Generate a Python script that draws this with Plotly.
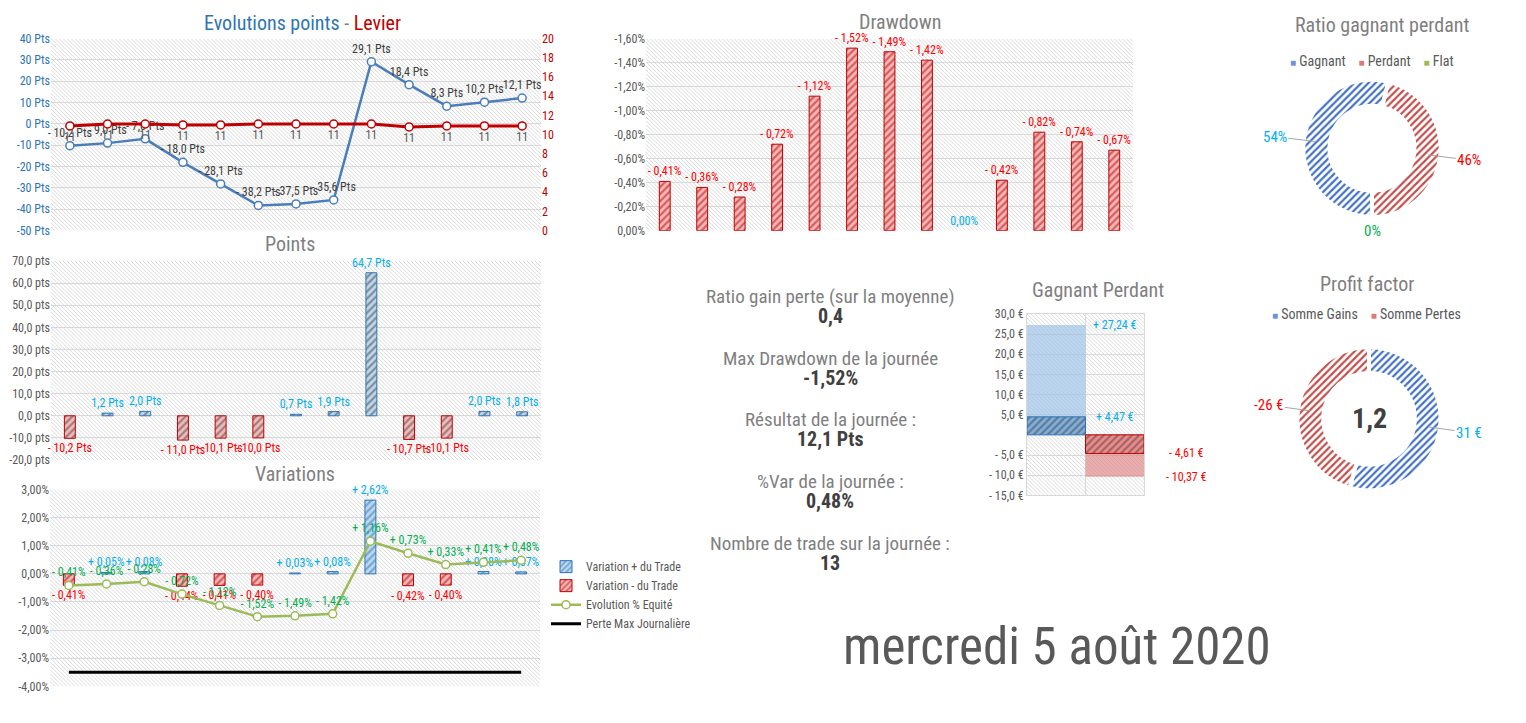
import base64
import math

import plotly.graph_objects as go

W, H = 1526, 723
M = 8  # margin the browser page keeps around the figure
FW, FH = W - 2 * M, H - 2 * M
FONT = ("Noto Sans ExtraCondensed, Noto Sans Condensed, Roboto Condensed, "
        "Liberation Sans Narrow, Roboto, sans-serif")

GREY = "#595959"
TITLE_GREY = "#7f7f7f"
DARK = "#404040"
CYAN = "#00b0f0"
RED = "#ff0000"
GREEN = "#00b050"
BLUE_FG, BLUE_BG = "#2e75b6", "#bdd7ee"
RED_FG, RED_BG = "#c00000", "#f4b9b9"

# ---- data ----
trades = list(range(1, 14))
cumul_pts = [-10.2, -9.0, -7.0, -18.0, -28.1, -38.2, -37.5, -35.6, 29.1, 18.4, 8.3, 10.2, 12.1]
levier = [10.9, 11.1, 11.1, 11.0, 11.0, 11.1, 11.1, 11.1, 11.1, 10.8, 10.9, 10.9, 10.9]
trade_pts = [-10.2, 1.2, 2.0, -11.0, -10.1, -10.0, 0.7, 1.9, 64.7, -10.7, -10.1, 2.0, 1.8]
trade_var = [-0.41, 0.05, 0.08, -0.44, -0.41, -0.40, 0.03, 0.08, 2.62, -0.42, -0.40, 0.08, 0.07]
equity_var = [-0.41, -0.36, -0.28, -0.72, -1.12, -1.52, -1.49, -1.42, 1.16, 0.73, 0.33, 0.41, 0.48]
perte_max = [-3.5, -3.5, -3.5, -3.5, -3.5, -3.5, -3.5, -3.5, -3.5, -3.5, -3.5, -3.5, -3.5]
drawdown = [-0.41, -0.36, -0.28, -0.72, -1.12, -1.52, -1.49, -1.42, 0.00, -0.42, -0.82, -0.74, -0.67]

gp_cats = ["Gagnant", "Perdant"]
gp_max = [27.24, -10.37]
gp_moy = [4.47, -4.61]

ratio_labels = ["Gagnant", "Perdant", "Flat"]
ratio_counts = [7, 6, 0]

pf_labels = ["Somme Gains", "Somme Pertes"]
pf_values = [31, -26]

stats = [
    ("Ratio gain perte (sur la moyenne)", "0,4"),
    ("Max Drawdown de la journée", "-1,52%"),
    ("Résultat de la journée :", "12,1 Pts"),
    ("%Var de la journée :", "0,48%"),
    ("Nombre de trade sur la journée :", "13"),
]
day_label = "mercredi 5 août 2020"


def px(x):
    return (x - M) / FW


def py(y):
    return 1 - (y - M) / FH


def dec(v, d):
    return f"{abs(v):.{d}f}".replace(".", ",")


def signed(v, d, suffix, plus=True):
    if v < 0:
        return f"- {dec(v, d)}{suffix}"
    if v > 0 and plus:
        return f"+ {dec(v, d)}{suffix}"
    return f"{dec(v, d)}{suffix}"


def plain(d, suffix):
    def f(t):
        t = 0.0 if abs(t) < 1e-9 else t
        return f"{t:.{d}f}{suffix}".replace(".", ",")
    return f


def ticks(lo, hi, step, fmt):
    vals = []
    v = lo
    while v <= hi + 1e-9:
        vals.append(round(v, 4))
        v += step
    return dict(tickmode="array", tickvals=vals, ticktext=[fmt(t) for t in vals])


def hatch(x0, y0, x1, y1):
    w, h = x1 - x0, y1 - y0
    svg = (
        f'<svg xmlns="http://www.w3.org/2000/svg" width="{w}" height="{h}" '
        f'viewBox="0 0 {w} {h}" preserveAspectRatio="none"><defs>'
        '<pattern id="p" width="4" height="4" patternUnits="userSpaceOnUse">'
        '<path d="M0,0 L4,4 M-1,3 L1,5 M3,-1 L5,1" stroke="#dadada" stroke-width="1"/>'
        '</pattern></defs><rect width="100%" height="100%" fill="url(#p)"/></svg>'
    )
    src = "data:image/svg+xml;base64," + base64.b64encode(svg.encode()).decode()
    return dict(source=src, xref="paper", yref="paper", x=px(x0), y=py(y0),
                sizex=w / FW, sizey=h / FH, sizing="stretch", layer="below",
                xanchor="left", yanchor="top")


def pat(fg, bg):
    return dict(shape="/", fgcolor=fg, bgcolor=bg, size=5, solidity=0.45)


# plot areas in pixels of the reference (x0, y0, x1, y1)
A_EVOL = (51, 32, 541, 228)
A_PTS = (51, 259, 541, 462)
A_VAR = (50, 492, 540, 693)
A_DD = (646, 32, 1133, 228)
A_GP = (1027, 313, 1144, 498)

LBL = dict(size=12, family=FONT)

fig = go.Figure()

# ---- Evolutions points - Levier ----
fig.add_trace(go.Scatter(
    x=trades, y=cumul_pts, mode="lines+markers+text",
    text=[signed(v, 1, " Pts", plus=False) for v in cumul_pts],
    textposition="top center", textfont=dict(color=DARK, **LBL),
    line=dict(color="#4a7ebb", width=2.5),
    marker=dict(size=8, color="white", line=dict(color="#4a7ebb", width=1.5)),
    xaxis="x", yaxis="y", showlegend=False, cliponaxis=False))
fig.add_trace(go.Scatter(
    x=trades, y=levier, mode="lines+markers+text",
    text=[f"{v:.0f}" for v in levier],
    textposition="bottom center", textfont=dict(color=GREY, **LBL),
    line=dict(color=RED_FG, width=3),
    marker=dict(size=8, color="white", line=dict(color=RED_FG, width=1.5)),
    xaxis="x", yaxis="y2", showlegend=False, cliponaxis=False))

# ---- Points ----
fig.add_trace(go.Bar(
    x=trades, y=trade_pts, width=0.29,
    text=[signed(v, 1, " Pts", plus=False) for v in trade_pts],
    textposition="outside", constraintext="none",
    textfont=dict(color=[CYAN if v > 0 else RED for v in trade_pts], **LBL),
    marker=dict(color=[BLUE_BG if v > 0 else RED_BG for v in trade_pts],
                line=dict(color=[BLUE_FG if v > 0 else RED_FG for v in trade_pts], width=1),
                pattern=dict(shape="/", fgcolor=[BLUE_FG if v > 0 else RED_FG for v in trade_pts],
                             size=5, solidity=0.45)),
    xaxis="x3", yaxis="y3", showlegend=False, cliponaxis=False))

# ---- Variations ----
var_pos = [v if v > 0 else None for v in trade_var]
var_neg = [v if v < 0 else None for v in trade_var]
fig.add_trace(go.Bar(
    x=trades, y=var_pos, width=0.29, name="Variation + du Trade",
    text=[signed(v, 2, "%") if v is not None else "" for v in var_pos],
    textposition="outside", constraintext="none", textfont=dict(color=CYAN, **LBL),
    marker=dict(color=BLUE_BG, line=dict(color=BLUE_FG, width=1), pattern=pat(BLUE_FG, BLUE_BG)),
    xaxis="x4", yaxis="y4", cliponaxis=False))
fig.add_trace(go.Bar(
    x=trades, y=var_neg, width=0.29, name="Variation - du Trade",
    text=[signed(v, 2, "%") if v is not None else "" for v in var_neg],
    textposition="outside", constraintext="none", textfont=dict(color=RED, **LBL),
    marker=dict(color=RED_BG, line=dict(color=RED_FG, width=1), pattern=pat(RED_FG, RED_BG)),
    xaxis="x4", yaxis="y4", cliponaxis=False))
fig.add_trace(go.Scatter(
    x=trades, y=equity_var, mode="lines+markers+text", name="Evolution % Equité",
    text=[signed(v, 2, "%") for v in equity_var],
    textposition="top center", textfont=dict(color=GREEN, **LBL),
    line=dict(color="#9bbb59", width=2.5),
    marker=dict(size=8, color="white", line=dict(color="#9bbb59", width=1.5)),
    xaxis="x4", yaxis="y4", cliponaxis=False))
fig.add_trace(go.Scatter(
    x=trades, y=perte_max, mode="lines", name="Perte Max Journalière",
    line=dict(color="black", width=3), xaxis="x4", yaxis="y4"))

# ---- Drawdown ----
fig.add_trace(go.Bar(
    x=trades, y=drawdown, width=0.29,
    text=[signed(v, 2, "%") for v in drawdown], textposition="outside", constraintext="none",
    textfont=dict(color=[RED if v < 0 else CYAN for v in drawdown], **LBL),
    marker=dict(color=RED_BG, line=dict(color=RED_FG, width=[1 if v else 0 for v in drawdown]),
                pattern=pat(RED_FG, RED_BG)),
    xaxis="x5", yaxis="y5", showlegend=False, cliponaxis=False))

# ---- Gagnant Perdant ----
fig.add_trace(go.Bar(
    x=gp_cats, y=gp_max, width=1,
    marker=dict(color=["rgba(157,195,230,0.7)", "rgba(224,130,130,0.65)"], line=dict(width=0)),
    xaxis="x6", yaxis="y6", showlegend=False))
fig.add_trace(go.Bar(
    x=gp_cats, y=gp_moy, width=1,
    marker=dict(color=["#7fb0dd", "#f08a8a"], line=dict(color=[BLUE_FG, RED_FG], width=1),
                pattern=dict(shape="/", fgcolor=[BLUE_FG, RED_FG], size=5, solidity=0.45)),
    xaxis="x6", yaxis="y6", showlegend=False))

# ---- donuts ----
P1 = (1372, 144, 70)
P2 = (1369, 420, 73)
PIE1_COLORS = ["#b4c7e7", "#f4b6b6", "#c5e0b4"]
PIE1_LINES = ["#4472c4", "#c0504d", "#70ad47"]
fig.add_trace(go.Pie(
    labels=ratio_labels, values=ratio_counts, hole=0.62, sort=False,
    direction="clockwise", rotation=180, textinfo="none", showlegend=False,
    marker=dict(colors=PIE1_COLORS, line=dict(color="white", width=4),
                pattern=dict(shape="/", fgcolor=PIE1_LINES, size=5, solidity=0.45)),
    domain=dict(x=[px(P1[0] - P1[2]), px(P1[0] + P1[2])],
                y=[py(P1[1] + P1[2]), py(P1[1] - P1[2])])))
fig.add_trace(go.Pie(
    labels=pf_labels, values=[abs(v) for v in pf_values], hole=0.64, sort=False,
    direction="clockwise", rotation=0, textinfo="none", showlegend=False,
    marker=dict(colors=PIE1_COLORS[:2], line=dict(color="white", width=4),
                pattern=dict(shape="/", fgcolor=PIE1_LINES[:2], size=5, solidity=0.45)),
    domain=dict(x=[px(P2[0] - P2[2]), px(P2[0] + P2[2])],
                y=[py(P2[1] + P2[2]), py(P2[1] - P2[2])])))


def donut_labels(center, values, start, texts, colors, hole):
    cx, cy, r = center
    total = sum(abs(v) for v in values)
    out = []
    acc = start
    for v, t, c in zip(values, texts, colors):
        frac = abs(v) / total
        mid = math.radians(acc + frac * 180)
        acc += frac * 360
        dx, dy = math.sin(mid), -math.cos(mid)
        rm = r * (1 + hole) / 2
        hx, hy = cx + rm * dx, cy + rm * dy
        if v != 0:
            lx, ly = cx + (r + 28) * dx, cy + (r + 28) * dy
            out.append(dict(x=px(hx), y=py(hy), xref="paper", yref="paper", text=t,
                            showarrow=True, arrowhead=0, arrowwidth=1, arrowcolor="#a6a6a6",
                            ax=lx - hx, ay=ly - hy, font=dict(color=c, size=15, family=FONT)))
        else:
            lx, ly = cx + (r + 14) * dx, cy + (r + 14) * dy
            out.append(dict(x=px(lx), y=py(ly), xref="paper", yref="paper", text=t,
                            xanchor="center", yanchor="middle", showarrow=False,
                            font=dict(color=c, size=15, family=FONT)))
    return out


def title(text, x, y, size=20, color=TITLE_GREY):
    return dict(x=px(x), y=py(y), xref="paper", yref="paper", text=text, showarrow=False,
                xanchor="center", yanchor="middle",
                font=dict(size=size, color=color, family=FONT))


def key_row(labels, colors):
    gap = "&nbsp;" * 4
    return gap.join(f"<span style='color:{c};font-size:10px'>■</span> {lab}"
                    for lab, c in zip(labels, colors))


ratio_tot = sum(ratio_counts)
annotations = []
annotations += donut_labels(P1, ratio_counts, 180,
                            [f"{round(100 * v / ratio_tot)}%" for v in ratio_counts],
                            [CYAN, RED, GREEN], 0.62)
annotations += donut_labels(P2, pf_values, 0, [f"{v} €" for v in pf_values], [CYAN, RED], 0.64)
annotations.append(title(f"<b>{dec(pf_values[0] / abs(pf_values[1]), 1)}</b>",
                         P2[0], P2[1], size=28, color=DARK))
annotations.append(title(key_row(ratio_labels, ["#6f93d6", "#d97b79", "#9bbb59"]),
                         1372, 55, size=14, color=GREY))
annotations.append(title(key_row(pf_labels, ["#6f93d6", "#d97b79"]),
                         1366, 313, size=14, color=GREY))

annotations += [
    title("<span style='color:#2e75b6'>Evolutions points</span> - "
          "<span style='color:#c00000'>Levier</span>", 302, 16),
    title("Points", 290, 242),
    title("Variations", 295, 476),
    title("Drawdown", 900, 15),
    title("Gagnant Perdant", 1098, 289),
    title("Ratio gagnant perdant", 1382, 18),
    title("Profit factor", 1367, 282),
    title(day_label, 1057, 652, size=51, color=GREY),
]
for i, (lab, val) in enumerate(stats):
    y0 = 295 + 63 * i
    annotations.append(title(lab, 830, y0, size=19))
    annotations.append(title(f"<b>{val}</b>", 830, y0 + 20, size=20, color=DARK))

# labels of the Gagnant Perdant bars
for v in gp_max + gp_moy:
    pos = v > 0
    annotations.append(dict(x="Perdant", y=v, xref="x6", yref="y6",
                            text=signed(v, 2, " €"), showarrow=False,
                            xanchor="center", yanchor="middle",
                            xshift=0 if pos else 72,
                            font=dict(color=CYAN if pos else RED, size=12, family=FONT)))

grid = "#d9d9d9"


def yax(**kw):
    base = dict(showgrid=True, gridcolor=grid, zeroline=False, showline=False,
                tickfont=dict(color=GREY, size=12), ticks="")
    base.update(kw)
    return base


x_common = dict(showgrid=False, zeroline=False, showticklabels=False, range=[0.5, 13.5],
                fixedrange=True)

fig.update_layout(
    width=FW, height=FH, margin=dict(l=0, r=0, t=0, b=0),
    paper_bgcolor="white", plot_bgcolor="rgba(0,0,0,0)",
    font=dict(family=FONT, color=GREY, size=12),
    barmode="overlay", annotations=annotations,
    images=[hatch(*a) for a in (A_EVOL, A_PTS, A_VAR, A_DD, A_GP)],
    xaxis=dict(domain=[px(A_EVOL[0]), px(A_EVOL[2])], anchor="y", **x_common),
    yaxis=yax(domain=[py(A_EVOL[3]), py(A_EVOL[1])], range=[-50, 40], anchor="x",
              tickfont=dict(color="#2e75b6", size=12),
              **ticks(-50, 40, 10, plain(0, " Pts"))),
    yaxis2=dict(overlaying="y", side="right", range=[0, 20], anchor="x", showgrid=False,
                zeroline=False, tickfont=dict(color=RED_FG, size=12),
                **ticks(0, 20, 2, plain(0, ""))),
    xaxis3=dict(domain=[px(A_PTS[0]), px(A_PTS[2])], anchor="y3", **x_common),
    yaxis3=yax(domain=[py(A_PTS[3]), py(A_PTS[1])], range=[-20, 70], anchor="x3",
               **ticks(-20, 70, 10, plain(1, " pts"))),
    xaxis4=dict(domain=[px(A_VAR[0]), px(A_VAR[2])], anchor="y4", **x_common),
    yaxis4=yax(domain=[py(A_VAR[3]), py(A_VAR[1])], range=[-4, 3], anchor="x4",
               **ticks(-4, 3, 1, plain(2, "%"))),
    xaxis5=dict(domain=[px(A_DD[0]), px(A_DD[2])], anchor="y5", **x_common),
    yaxis5=yax(domain=[py(A_DD[3]), py(A_DD[1])], range=[0, -1.6], anchor="x5",
               **ticks(-1.6, 0, 0.2, plain(2, "%"))),
    xaxis6=dict(domain=[px(A_GP[0]), px(A_GP[2])], anchor="y6", type="category",
                range=[-0.5, 1.5], tickson="boundaries", showgrid=True, gridcolor=grid,
                showticklabels=False, showline=True, mirror=True, linecolor=grid, ticks=""),
    yaxis6=yax(domain=[py(A_GP[3]), py(A_GP[1])], range=[-15, 30], anchor="x6",
               showline=True, mirror=True, linecolor=grid,
               **ticks(-15, 30, 5, lambda t: "" if t == 0 else signed(t, 1, " €", plus=False))),
    legend=dict(x=px(546), y=py(556), xanchor="left", yanchor="top", orientation="v",
                font=dict(size=12, color=GREY), bgcolor="rgba(0,0,0,0)", tracegroupgap=0),
)

fig.write_html("out.html")
